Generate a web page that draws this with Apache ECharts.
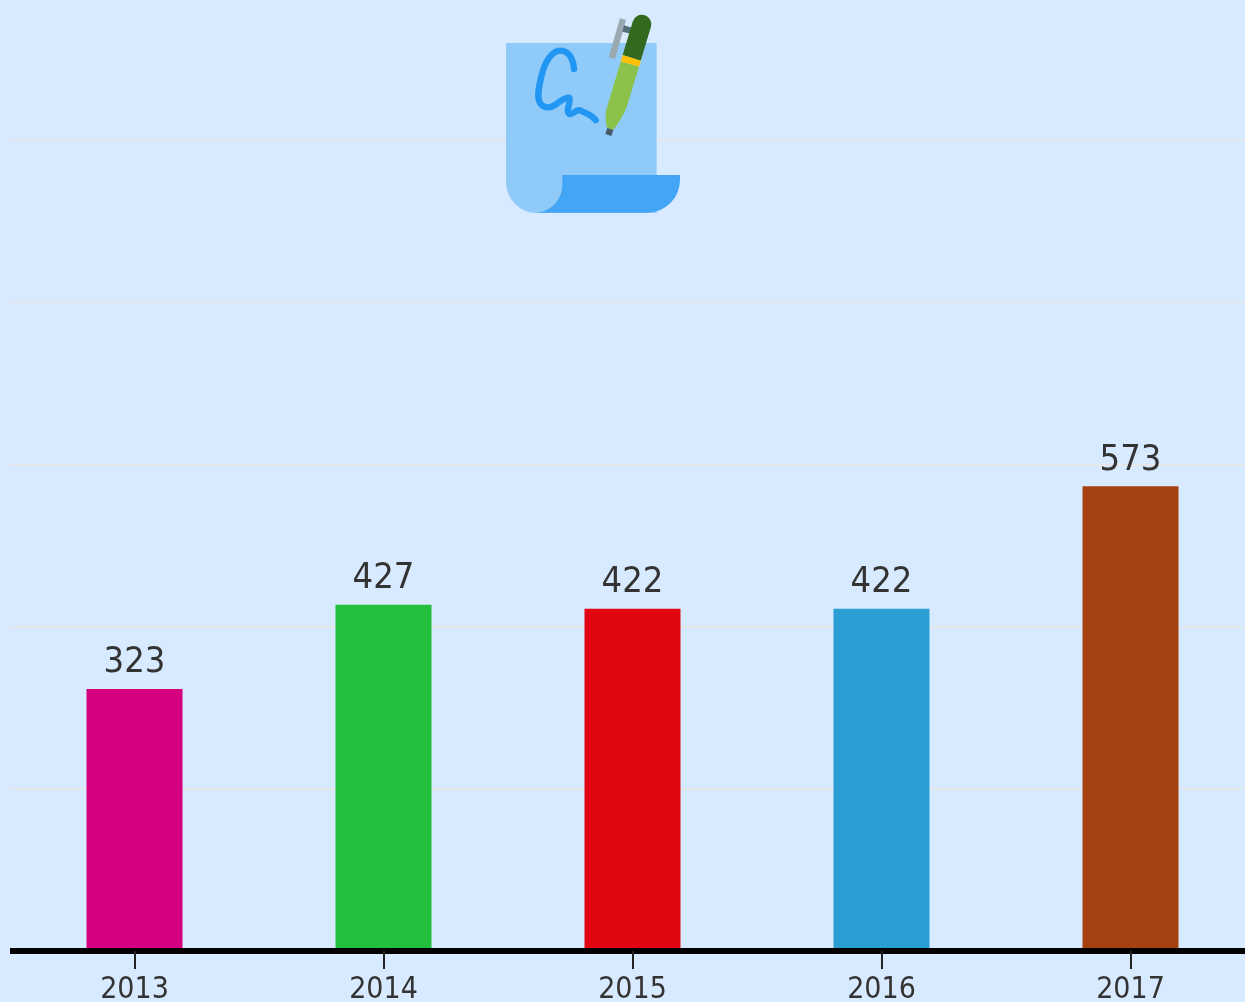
<!DOCTYPE html>
<html>
<head>
<meta charset="utf-8">
<style>
html, body { margin: 0; padding: 0; background: #d8eaff; }
#main { width: 1245px; height: 1002px; }
</style>
<script src="https://cdn.jsdelivr.net/npm/echarts@6/dist/echarts.min.js"></script>
</head>
<body>
<div id="main"></div>
<script>
const years = ['2013', '2014', '2015', '2016', '2017']
const counts = [323, 427, 422, 422, 573]
const barColors = ['#d5007f', '#23bf3d', '#e20612', '#2b9ed4', '#a64112']

const fontName = "'DejaVu Sans Condensed', 'DejaVu Sans', sans-serif"

// graphic has no plain svg path type, so register each icon piece as a shape
function iconPart (name, d, style) {
  echarts.graphic.registerShape(name, echarts.graphic.extendPath(d, {}))
  return { type: name, z: 10, style: style }
}

// document + pen icon, path coords are 3x so they divide down in the group
const icon = {
  type: 'group',
  x: 490,
  y: 0,
  scaleX: 1 / 3,
  scaleY: 1 / 3,
  silent: true,
  children: [
    iconPart('paper', 'M48 129H500V639H140A92 92 0 0 1 48 547Z', { fill: '#90caf9' }),
    iconPart('roll', 'M217 525H570V540A98 98 0 0 1 472 638H135C180 638 217 600 217 555Z', { fill: '#42a5f5' }),
    iconPart('signature', 'M252 207C250 175 235 152 212 152C185 152 165 185 155 225C148 255 140 285 148 305C155 322 175 328 195 315C210 305 225 290 238 293C245 300 225 335 238 342C250 345 258 325 272 332C285 340 300 340 317 360', { fill: 'none', stroke: '#2196f3', lineWidth: 19, lineCap: 'round', lineJoin: 'round' }),
    iconPart('penClip', 'M390 55L408 60L375 177L356 172Z', { fill: '#9aa8b0' }),
    iconPart('penClipBar', 'M402 76L428 84L422 101L397 95Z', { fill: '#546e7a' }),
    iconPart('penCap', 'M398 165L428 65A28 28 0 0 1 483 80L452 182Z', { fill: '#33691e' }),
    iconPart('penBand', 'M398 165L453 182L447 200L392 185Z', { fill: '#ffc107' }),
    iconPart('penBody', 'M392 185L447 200L413 312C405 340 385 370 370 390L352 384C345 360 345 345 350 325Z', { fill: '#8bc34a' }),
    iconPart('penTip', 'M352 384L370 390L364 408L346 402Z', { fill: '#455a64' })
  ]
}

const chart = echarts.init(document.getElementById('main'))
chart.setOption({
  backgroundColor: '#d8eaff',
  animation: false,
  // the picture is cropped: last band runs past the right edge
  grid: { left: 10, width: 1245, top: 140, height: 811, outerBoundsMode: 'none' },
  graphic: [icon],
  xAxis: {
    type: 'category',
    data: years,
    z: 5,
    axisLine: { lineStyle: { color: '#000', width: 6, cap: 'butt' } },
    axisTick: { show: true, alignWithLabel: true, length: 18, lineStyle: { color: '#222', width: 2 } },
    axisLabel: { color: '#333', fontSize: 30, fontFamily: fontName, margin: 24, interval: 0 }
  },
  yAxis: {
    type: 'value',
    min: 0,
    max: 1000,
    interval: 200,
    axisLine: { show: false },
    axisTick: { show: false },
    axisLabel: { show: false },
    splitLine: { lineStyle: { color: '#e5e6ea', width: 2 } }
  },
  series: [{
    type: 'bar',
    barWidth: 96,
    data: counts.map((v, i) => ({ value: v, itemStyle: { color: barColors[i] } })),
    label: { show: true, position: 'top', distance: 8, color: '#333', fontSize: 36, fontFamily: fontName }
  }]
})
</script>
</body>
</html>
